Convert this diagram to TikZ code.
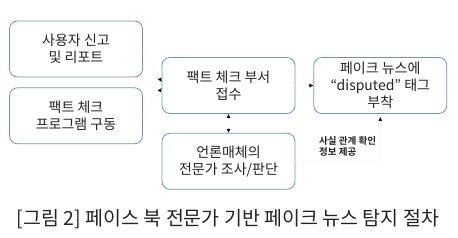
\documentclass[tikz,border=0pt]{standalone}
\usepackage{fontspec}
\setmainfont{Noto Sans CJK KR}[BoldFont={Noto Sans CJK KR Bold}]
\usetikzlibrary{arrows.meta,positioning}
\definecolor{boxline}{RGB}{112,146,190}
\definecolor{textgray}{RGB}{35,35,35}
\definecolor{faint}{RGB}{248,248,248}

\begin{document}
\begin{tikzpicture}[x=1pt, y=1pt,
    node distance=10pt and 18pt,
    box/.style={draw=boxline, line width=0.8pt, rounded corners=8pt, minimum width=133pt, minimum height=56pt, align=center, text=textgray, inner sep=2pt, font=\fontsize{14}{17}\selectfont},
    arrow/.style={-{Latex[length=4pt, width=4pt, color=black]}, draw=faint, line width=0.6pt},
    note/.style={font=\fontsize{9.5}{11}\selectfont\bfseries, align=left, text=textgray, inner sep=0pt}
  ]
    \useasboundingbox (0,0) rectangle (458,238);

    \node[box] (report) at (76,189) {사용자 신고\\및 리포트};
    \node[box, below=of report] (program) {팩트 체크\\프로그램 구동};
    \node[box] (intake) at (228.5,152.5) {팩트 체크 부서\\접수};
    \node[box, below=19pt of intake] (expert) {언론매체의\\전문가 조사/판단};
    \node[box, right=18pt of intake] (tag) {페이크 뉴스에\\“disputed” 태그\\부착};

    \draw[arrow] (report.east) -- ([yshift=3.5pt]intake.west);
    \draw[arrow] (program.east) -- ([yshift=-2.5pt]intake.west);
    \draw[arrow] (intake) -- (tag);
    \draw[arrow, {Latex[length=4pt, width=4pt, color=black]}-{Latex[length=4pt, width=4pt, color=black]}] (intake) -- (expert);
    \draw[arrow, shorten >=3pt] (expert.east) -| node[note, pos=0.5, above left=5pt and 4pt] (factinfo) {사실 관계 확인\\정보 제공} (tag.south);

    \node[font=\fontsize{19.5}{21}\selectfont, text=textgray] (caption) at (228,19) {[그림 2] 페이스 북 전문가 기반 페이크 뉴스 탐지 절차};
  \end{tikzpicture}
\end{document}
